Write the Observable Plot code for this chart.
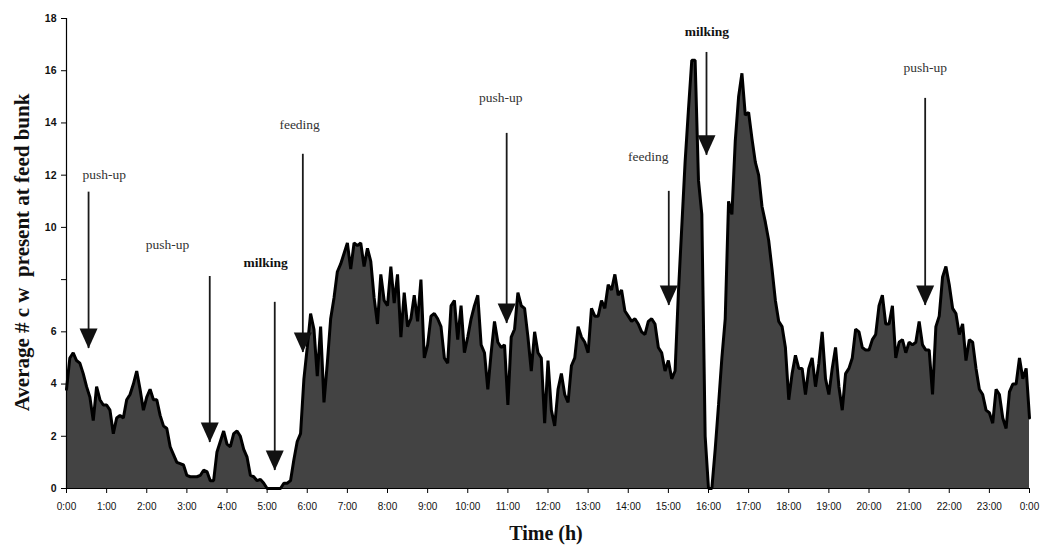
<!DOCTYPE html>
<html>
<head>
<meta charset="utf-8">
<script src="https://cdn.jsdelivr.net/npm/d3@7"></script>
<script src="https://cdn.jsdelivr.net/npm/@observablehq/plot@0.6"></script>
<style>
  html, body { margin: 0; padding: 0; background: #fff; }
  #chart { width: 1042px; height: 548px; }
</style>
</head>
<body>
<div id="chart"></div>
<script>
// Average number of cows at feed bunk, one value every 5 minutes
const h00 = [3.8, 5.0, 5.2, 4.9, 4.8, 4.4, 3.9, 3.5, 2.6, 3.9, 3.4, 3.2];
const h01 = [3.2, 3.0, 2.1, 2.7, 2.8, 2.7, 3.4, 3.6, 4.0, 4.5, 3.8, 3.0];
const h02 = [3.5, 3.8, 3.4, 3.4, 2.8, 2.4, 2.3, 1.6, 1.3, 1.0, 0.95, 0.9];
const h03 = [0.5, 0.45, 0.45, 0.45, 0.5, 0.7, 0.65, 0.3, 0.3, 1.4, 1.8, 2.2];
const h04 = [1.7, 1.6, 2.1, 2.2, 2.0, 1.5, 1.2, 0.5, 0.45, 0.3, 0.35, 0.2];
const h05 = [0, 0, 0, 0, 0, 0.2, 0.2, 0.3, 1.1, 1.8, 2.1, 4.2];
const h06 = [5.4, 6.7, 6.1, 4.3, 6.2, 3.3, 4.8, 6.5, 7.3, 8.3, 8.6, 9.0];
const h07 = [9.4, 8.4, 9.4, 9.3, 9.4, 8.5, 9.2, 8.7, 7.3, 6.3, 8.2, 7.2];
const h08 = [7.0, 8.5, 7.1, 8.2, 5.8, 7.5, 6.2, 6.5, 7.4, 6.4, 8.0, 5.0];
const h09 = [5.5, 6.6, 6.7, 6.5, 6.2, 5.0, 4.8, 7.0, 7.2, 5.7, 7.0, 5.2];
const h10 = [5.8, 6.5, 7.0, 7.4, 5.5, 5.2, 3.8, 5.2, 6.4, 5.6, 5.4, 5.5];
const h11 = [3.2, 5.8, 6.1, 7.5, 7.0, 6.9, 5.8, 4.5, 6.0, 5.2, 5.0, 2.5];
const h12 = [4.9, 3.0, 2.4, 3.8, 4.4, 3.6, 3.3, 4.7, 5.0, 6.2, 5.8, 5.6];
const h13 = [5.2, 6.9, 6.6, 6.6, 7.2, 6.9, 7.8, 7.6, 8.2, 7.4, 7.6, 6.8];
const h14 = [6.6, 6.4, 6.5, 6.3, 6.0, 5.9, 6.4, 6.5, 6.3, 5.4, 5.2, 4.5];
const h15 = [4.9, 4.2, 4.5, 7.5, 10.0, 12.5, 14.5, 16.4, 16.4, 11.8, 10.5, 2.0];
const h16 = [0, 0, 1.5, 3.2, 5.0, 6.5, 11.0, 10.5, 13.3, 15.0, 15.9, 14.3];
const h17 = [14.4, 13.4, 12.5, 12.0, 10.8, 10.2, 9.5, 8.4, 7.2, 6.4, 6.2, 5.4];
const h18 = [3.4, 4.4, 5.1, 4.6, 4.6, 3.6, 4.6, 5.0, 3.9, 4.8, 6.0, 4.2];
const h19 = [3.6, 4.6, 5.4, 3.9, 3.0, 4.4, 4.6, 5.0, 6.1, 6.0, 5.4, 5.3];
const h20 = [5.3, 5.7, 5.9, 7.0, 7.4, 6.3, 6.3, 7.0, 5.0, 5.6, 5.7, 5.2];
const h21 = [5.6, 5.5, 5.6, 6.4, 5.5, 5.3, 5.3, 3.6, 6.2, 6.6, 8.1, 8.5];
const h22 = [7.8, 6.9, 6.7, 5.9, 6.3, 4.9, 5.7, 5.6, 4.6, 3.8, 3.6, 3.0];
const h23 = [2.9, 2.5, 3.8, 3.6, 2.7, 2.3, 3.7, 4.0, 4.0, 5.0, 4.2, 4.6];
const h24 = [2.7];

// Tick labels
const xTickHours = d3.range(0, 25);
const xTickLabels = xTickHours.map(h => `${h % 24}:00`);
const yTicks = [0, 2, 4, 6, 8, 10, 12, 14, 16, 18];
const yTickLabels = ["0", "2", "4", "6", "", "10", "12", "14", "16", "18"];

// Annotations (label, label position, arrow hour, arrow top and tip values)
const annLabels = ["push-up", "push-up", "milking", "feeding", "push-up", "feeding", "milking", "push-up"];
const annBold   = [false, false, true, false, false, false, true, false];
const annLabelX = [0.94, 2.52, 4.96, 5.81, 10.82, 14.50, 15.96, 21.40];
const annLabelY = [12.0, 9.35, 8.66, 13.95, 14.98, 12.72, 17.5, 16.1];
const annArrowX = [0.55, 3.57, 5.19, 5.89, 10.97, 15.01, 15.95, 21.40];
const annArrowTop = [11.35, 8.12, 7.13, 12.8, 13.6, 11.38, 16.7, 14.94];
const annArrowTip = [5.36, 1.76, 0.69, 5.21, 6.32, 7.01, 12.76, 7.01];

const counts = [...h00, ...h01, ...h02, ...h03, ...h04, ...h05, ...h06, ...h07, ...h08, ...h09, ...h10, ...h11,
                ...h12, ...h13, ...h14, ...h15, ...h16, ...h17, ...h18, ...h19, ...h20, ...h21, ...h22, ...h23, ...h24];
const series = counts.map((v, i) => ({hour: i * 5 / 60, v}));
const anns = annLabels.map((label, i) => ({
  label, bold: annBold[i], lx: annLabelX[i], ly: annLabelY[i],
  ax: annArrowX[i], top: annArrowTop[i], tip: annArrowTip[i]
}));

// Down-pointing triangle whose tip is at the anchor point
const arrowHead = {
  draw(ctx) {
    ctx.moveTo(0, 0);
    ctx.lineTo(-9, -20);
    ctx.lineTo(9, -20);
    ctx.closePath();
  }
};

const serif = "'Liberation Serif', 'Times New Roman', serif";

const chart = Plot.plot({
  width: 1042,
  height: 548,
  marginLeft: 66,
  marginRight: 13,
  marginTop: 18,
  marginBottom: 60,
  style: {fontFamily: "'Liberation Sans', Arial, sans-serif", background: "#fff", overflow: "visible"},
  x: {domain: [0, 24]},
  y: {domain: [0, 18]},
  marks: [
    Plot.areaY(series, {x: "hour", y: "v", curve: "linear", fill: "#434343"}),
    Plot.lineY(series, {x: "hour", y: "v", curve: "linear", stroke: "#000", strokeWidth: 3, strokeLinejoin: "miter"}),
    Plot.ruleY([0], {stroke: "#000", strokeWidth: 1.2}),
    Plot.ruleX([0], {stroke: "#000", strokeWidth: 1.2}),
    Plot.axisX({ticks: xTickHours, tickFormat: (d, i) => xTickLabels[i], tickSize: 5, tickPadding: 9,
      fontSize: 10, fill: "#111", label: null}),
    Plot.axisY({ticks: yTicks, tickFormat: (d, i) => yTickLabels[i], tickSize: 5, tickPadding: 5,
      fontSize: 10.5, fontWeight: "bold", fill: "#111", label: null}),
    // Arrows
    Plot.ruleX(anns, {x: "ax", y1: "top", y2: "tip", stroke: "#1a1a1a", strokeWidth: 1.8}),
    Plot.dot(anns, {x: "ax", y: "tip", symbol: arrowHead, fill: "#111", stroke: "none", r: 5}),
    // Annotation labels
    Plot.text(anns.filter(d => !d.bold), {x: "lx", y: "ly", text: "label",
      fontFamily: serif, fontSize: 13.5, fill: "#333"}),
    Plot.text(anns.filter(d => d.bold), {x: "lx", y: "ly", text: "label",
      fontFamily: serif, fontSize: 13.5, fontWeight: "bold", fill: "#111"}),
    // Axis titles
    Plot.text(["Average # c w  present at feed bunk"], {x: -1.1, y: 9.04, text: d => d, rotate: -90,
      fontFamily: serif, fontSize: 21, fontWeight: "bold", fill: "#111"}),
    Plot.text(["Time (h)"], {x: 11.95, y: -1.72, text: d => d,
      fontFamily: serif, fontSize: 20, fontWeight: "bold", fill: "#111"})
  ]
});
document.getElementById("chart").appendChild(chart);
</script>
</body>
</html>
